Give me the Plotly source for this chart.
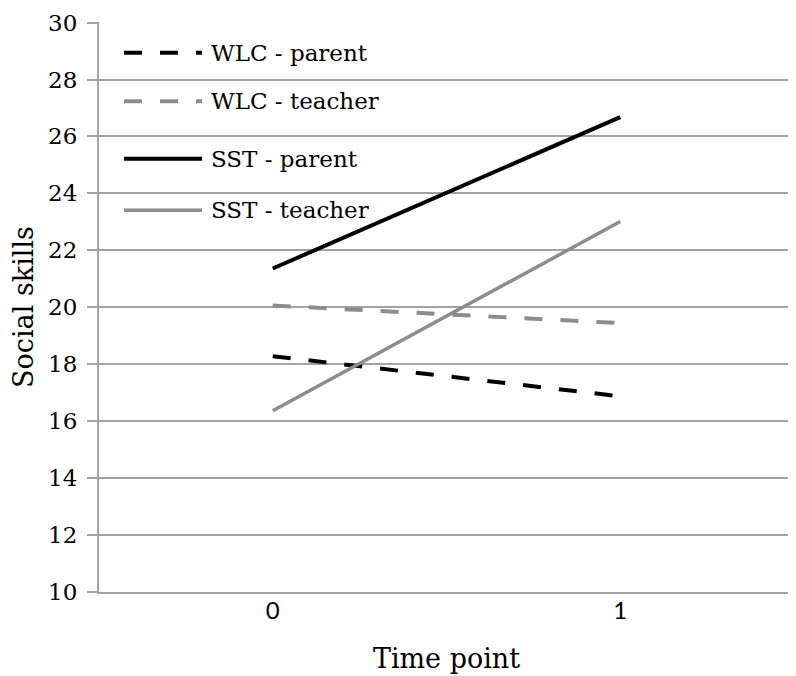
import plotly.graph_objects as go

# data
time_points = ["0", "1"]
series_names = ["WLC - parent", "WLC - teacher", "SST - parent", "SST - teacher"]
wlc_parent = [18.28, 16.87]
wlc_teacher = [20.06, 19.44]
sst_parent = [21.36, 26.68]
sst_teacher = [16.36, 23.01]
y_tick_values = [10, 12, 14, 16, 18, 20, 22, 24, 26, 28, 30]

series_values = [wlc_parent, wlc_teacher, sst_parent, sst_teacher]

# the page body has an 8px margin, so the figure starts at (8, 8) on screen
OFF = 8
W, H = 788, 668
M_L, M_R, M_T, M_B = 91, 2, 9, 84
PW = W - M_L - M_R
PH = H - M_T - M_B

SERIF = "DejaVu Serif"
GRID = "#a3a3a3"

line_styles = [
    dict(color="#000000", width=4, dash="18px,18px"),
    dict(color="#8c8c8c", width=4, dash="18px,18px"),
    dict(color="#000000", width=4, dash="solid"),
    dict(color="#8c8c8c", width=3.5, dash="solid"),
]

fig = go.Figure()
for name, vals, style in zip(series_names, series_values, line_styles):
    fig.add_trace(go.Scatter(
        x=time_points,
        y=vals,
        mode="lines",
        name=name,
        line=style,
        showlegend=False,
    ))


# screen px -> paper fraction
def px_x(px):
    return (px - OFF - M_L) / PW


def px_y(py):
    return (H - M_B - (py - OFF)) / PH


# hand-built legend so the line samples are as long as in the original
legend_rows = [48, 97, 155, 207]
shapes = []
annotations = []
for name, style, row in zip(series_names, line_styles, legend_rows):
    shapes.append(dict(
        type="line", xref="paper", yref="paper",
        x0=px_x(124), x1=px_x(202), y0=px_y(row), y1=px_y(row),
        line=style,
    ))
    annotations.append(dict(
        text=name, xref="paper", yref="paper",
        x=px_x(209), y=px_y(row), xanchor="left", yanchor="middle",
        showarrow=False,
        font=dict(family=SERIF, size=23, color="#000000"),
    ))

fig.update_layout(
    width=W,
    height=H,
    margin=dict(l=M_L, r=M_R, t=M_T, b=M_B, pad=0),
    paper_bgcolor="white",
    plot_bgcolor="white",
    showlegend=False,
    shapes=shapes,
    annotations=annotations,
    xaxis=dict(
        type="category",
        range=[-0.5, 1.5],
        showgrid=False,
        showline=True,
        linecolor=GRID,
        linewidth=2,
        ticks="",
        tickfont=dict(family="Lato", size=24, color="#000000"),
        ticklabelstandoff=-4,
        title=dict(text="Time point", font=dict(family=SERIF, size=27, color="#000000"), standoff=26),
        zeroline=False,
    ),
    yaxis=dict(
        range=[9.995, 30.02],
        tickvals=y_tick_values,
        showgrid=True,
        gridcolor=GRID,
        gridwidth=2,
        showline=True,
        linecolor=GRID,
        linewidth=2,
        ticks="outside",
        ticklen=10,
        tickwidth=2,
        tickcolor=GRID,
        tickfont=dict(family=SERIF, size=23, color="#000000"),
        ticklabelstandoff=5,
        ticklabeloverflow="allow",
        title=dict(text="Social skills", font=dict(family=SERIF, size=27, color="#000000"), standoff=15),
        zeroline=False,
    ),
)

fig.write_html("out.html")
